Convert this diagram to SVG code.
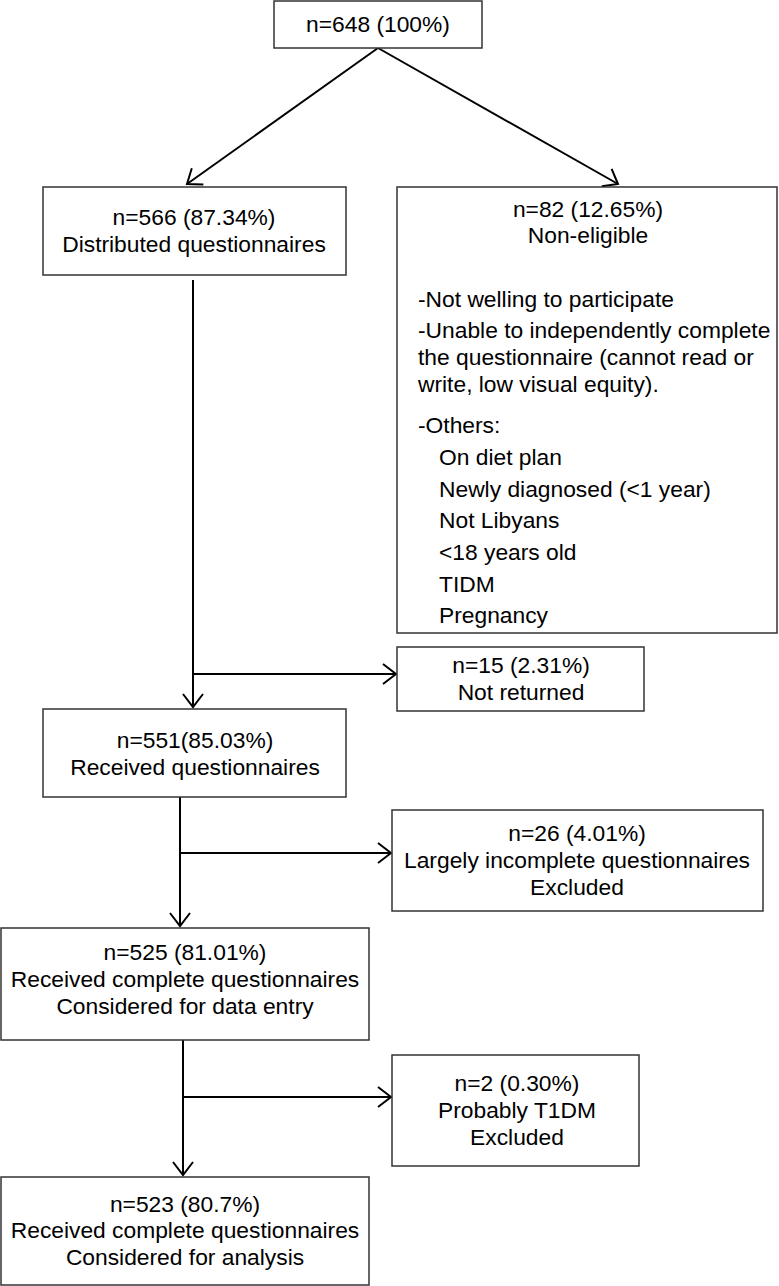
<svg xmlns="http://www.w3.org/2000/svg" width="779" height="1286" viewBox="0 0 779 1286">
<style>
rect.box{fill:#fff;stroke:#333;stroke-width:1.5}
text{font-family:"Liberation Sans",Arial,sans-serif;font-size:22.8px;fill:#000}
.c{text-anchor:middle}
.con{fill:none;stroke:#000;stroke-width:2}
</style>
<defs>
<marker id="ah" markerUnits="userSpaceOnUse" markerWidth="16" markerHeight="24" refX="14" refY="12" orient="auto" viewBox="0 0 16 24">
<path d="M1,2 L14,12 L1,22" fill="none" stroke="#000" stroke-width="2"/>
</marker>
</defs>
<g id="connectors">
<line class="con" x1="378" y1="48" x2="187" y2="184" marker-end="url(#ah)"/>
<line class="con" x1="378" y1="48" x2="618" y2="184" marker-end="url(#ah)"/>
<line class="con" x1="193" y1="280" x2="193" y2="707" marker-end="url(#ah)"/>
<line class="con" x1="193" y1="674" x2="396" y2="674" marker-end="url(#ah)"/>
<line class="con" x1="180" y1="797" x2="180" y2="926" marker-end="url(#ah)"/>
<line class="con" x1="180" y1="853" x2="391" y2="853" marker-end="url(#ah)"/>
<line class="con" x1="183" y1="1040" x2="183" y2="1175" marker-end="url(#ah)"/>
<line class="con" x1="183" y1="1097" x2="391" y2="1097" marker-end="url(#ah)"/>
</g>
<g id="n648">
<rect class="box" x="274" y="1" width="208" height="47"/>
<text class="c" x="378" y="32">n=648 (100%)</text>
</g>
<g id="n566">
<rect class="box" x="43" y="187" width="303" height="88"/>
<text class="c" x="194" y="225">n=566 (87.34%)</text>
<text class="c" x="194" y="252">Distributed questionnaires</text>
</g>
<g id="n82">
<rect class="box" x="397" y="187" width="380" height="446"/>
<text class="c" x="588" y="217">n=82 (12.65%)</text>
<text class="c" x="588" y="243">Non-eligible</text>
<text x="418" y="307">-Not welling to participate</text>
<text x="418" y="338">-Unable to independently complete</text>
<text x="418" y="365">the questionnaire (cannot read or</text>
<text x="418" y="392">write, low visual equity).</text>
<text x="418" y="433">-Others:</text>
<text x="439" y="465">On diet plan</text>
<text x="439" y="497">Newly diagnosed (&lt;1 year)</text>
<text x="439" y="528">Not Libyans</text>
<text x="439" y="560">&lt;18 years old</text>
<text x="439" y="592">TIDM</text>
<text x="439" y="623">Pregnancy</text>
</g>
<g id="n15">
<rect class="box" x="397" y="647" width="247" height="64"/>
<text class="c" x="521" y="673">n=15 (2.31%)</text>
<text class="c" x="521" y="700">Not returned</text>
</g>
<g id="n551">
<rect class="box" x="43" y="709" width="303" height="88"/>
<text class="c" x="195" y="748">n=551(85.03%)</text>
<text class="c" x="195" y="775">Received questionnaires</text>
</g>
<g id="n26">
<rect class="box" x="392" y="810" width="371" height="101"/>
<text class="c" x="577" y="841">n=26 (4.01%)</text>
<text class="c" x="577" y="868">Largely incomplete questionnaires</text>
<text class="c" x="577" y="895">Excluded</text>
</g>
<g id="n525">
<rect class="box" x="1" y="928" width="368" height="112"/>
<text class="c" x="185" y="960">n=525 (81.01%)</text>
<text class="c" x="185" y="987">Received complete questionnaires</text>
<text class="c" x="185" y="1014">Considered for data entry</text>
</g>
<g id="n2">
<rect class="box" x="392" y="1055" width="247" height="111"/>
<text class="c" x="517" y="1091">n=2 (0.30%)</text>
<text class="c" x="517" y="1118">Probably T1DM</text>
<text class="c" x="517" y="1145">Excluded</text>
</g>
<g id="n523">
<rect class="box" x="1" y="1177" width="368" height="108"/>
<text class="c" x="185" y="1212">n=523 (80.7%)</text>
<text class="c" x="185" y="1238">Received complete questionnaires</text>
<text class="c" x="185" y="1265">Considered for analysis</text>
</g>
</svg>
